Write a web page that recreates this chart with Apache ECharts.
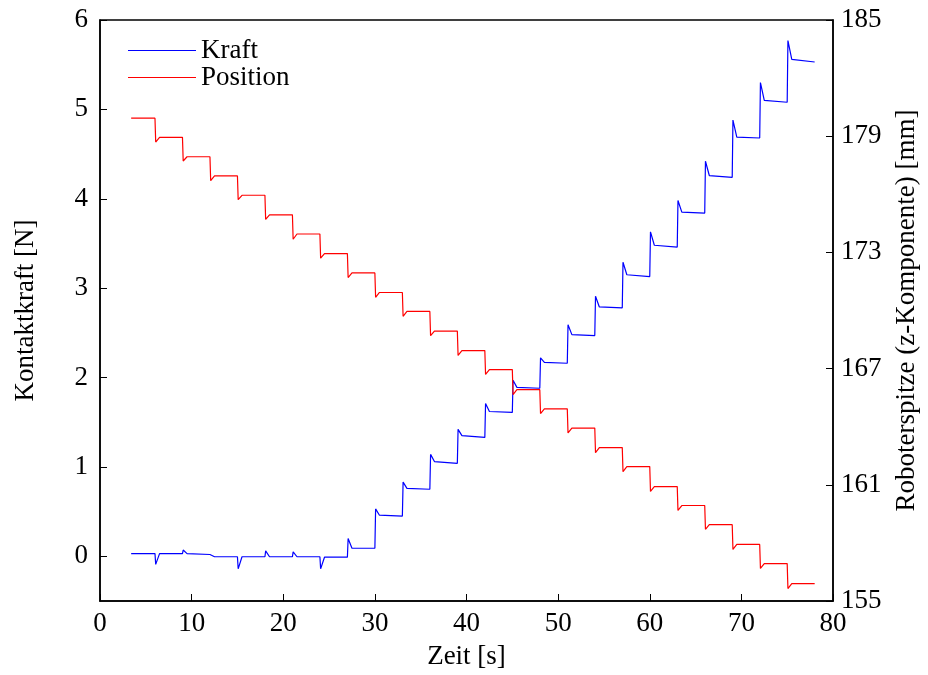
<!DOCTYPE html>
<html>
<head>
<meta charset="utf-8">
<script src="https://cdn.jsdelivr.net/npm/echarts@6/dist/echarts.min.js"></script>
<style>
  html, body { margin: 0; padding: 0; background: #fff; }
  #chart { width: 928px; height: 675px; }
</style>
</head>
<body>
<div id="chart"></div>
<script>
// time range of the recording [s]
var timeRange = [3.4, 78]
// times where the robot moves one step [s]
var stepTimes = [6, 9, 12, 15, 18, 21, 24, 27, 30, 33, 36, 39, 42, 45, 48, 51, 54, 57, 60, 63, 66, 69, 72, 75]

// Kraft [N]: settled level and end level of each segment, peak at each step
var kraftSettle = [0.03, 0.03, 0.03, -0.005, -0.005, -0.005, -0.005, -0.01, 0.09, 0.46, 0.76, 1.06, 1.35, 1.62, 1.89, 2.17, 2.48, 2.79, 3.15, 3.48, 3.85, 4.26, 4.69, 5.10, 5.56]
var kraftEnd = [0.03, 0.03, 0.02, -0.005, -0.005, -0.005, -0.005, -0.01, 0.09, 0.45, 0.75, 1.04, 1.33, 1.61, 1.88, 2.16, 2.47, 2.78, 3.13, 3.46, 3.84, 4.24, 4.68, 5.08, 5.53]
var kraftPeak = [-0.09, 0.07, 0.0, -0.14, 0.06, 0.05, -0.14, 0.20, 0.53, 0.83, 1.14, 1.42, 1.71, 1.97, 2.22, 2.59, 2.91, 3.29, 3.63, 3.98, 4.42, 4.88, 5.30, 5.77]

// Position [mm]: level of each segment, undershoot at each step
var positionLevel = [179.93, 178.94, 177.94, 176.95, 175.95, 174.94, 173.95, 172.94, 171.94, 170.93, 169.95, 168.94, 167.93, 166.95, 165.91, 164.92, 163.93, 162.92, 161.94, 160.91, 159.93, 158.94, 157.92, 156.93, 155.90]
var positionDip = [178.70, 177.72, 176.70, 175.72, 174.70, 173.68, 172.70, 171.70, 170.68, 169.70, 168.70, 167.68, 166.70, 165.66, 164.68, 163.68, 162.66, 161.68, 160.66, 159.68, 158.70, 157.66, 156.68, 155.64]

var leftTicks = [0, 1, 2, 3, 4, 5, 6]

function buildKraft() {
  var pts = [[timeRange[0], kraftSettle[0]]]
  for (var i = 0; i < stepTimes.length; i++) {
    var t = stepTimes[i]
    pts.push([t, kraftEnd[i]])
    pts.push([t + 0.08, kraftPeak[i]])
    pts.push([t + 0.5, kraftSettle[i + 1]])
  }
  pts.push([timeRange[1], kraftEnd[kraftEnd.length - 1]])
  return pts
}

function buildPosition() {
  var pts = [[timeRange[0], positionLevel[0]]]
  for (var i = 0; i < stepTimes.length; i++) {
    var t = stepTimes[i]
    pts.push([t, positionLevel[i]])
    pts.push([t + 0.08, positionDip[i]])
    pts.push([t + 0.5, positionLevel[i + 1]])
  }
  pts.push([timeRange[1], positionLevel[positionLevel.length - 1]])
  return pts
}

var font = '"Liberation Serif", "DejaVu Serif", serif'
var fs = 27
var chart = echarts.init(document.getElementById('chart'))
chart.setOption({
  animation: false,
  textStyle: { fontFamily: font, color: '#000' },
  grid: {
    left: 100, right: 88, top: 20, bottom: 74,
    show: true, borderColor: '#000', borderWidth: 1.5, backgroundColor: 'transparent'
  },
  legend: {
    left: 123, top: 32, orient: 'vertical', itemGap: 0,
    itemWidth: 68, itemHeight: 12, icon: 'path://M0,5 L68,5 L68,6.2 L0,6.2 Z',
    textStyle: { fontFamily: font, fontSize: fs, color: '#000', padding: [0, 0, 0, 0] },
    data: [
      { name: 'Kraft', itemStyle: { color: '#0000ff' } },
      { name: 'Position', itemStyle: { color: '#ff0000' } }
    ]
  },
  xAxis: {
    type: 'value', min: 0, max: 80, interval: 10,
    name: 'Zeit [s]', nameLocation: 'middle', nameGap: 42,
    nameTextStyle: { fontFamily: font, fontSize: fs, color: '#000' },
    axisLine: { onZero: false, lineStyle: { color: '#000', width: 1.5 } },
    axisTick: { inside: true, length: 7, lineStyle: { color: '#000' } },
    axisLabel: { fontFamily: font, fontSize: fs, color: '#000', margin: 9 },
    splitLine: { show: false }
  },
  yAxis: [{
    type: 'value', min: -0.5, max: 6, position: 'left',
    name: 'Kontaktkraft [N]', nameLocation: 'middle', nameGap: 61,
    nameTextStyle: { fontFamily: font, fontSize: fs, color: '#000' },
    axisLine: { show: true, onZero: false, lineStyle: { color: '#000', width: 1.5 } },
    axisTick: { show: true, inside: true, length: 7, customValues: leftTicks, lineStyle: { color: '#000' } },
    axisLabel: { fontFamily: font, fontSize: fs, color: '#000', margin: 12, customValues: leftTicks },
    splitLine: { show: false }
  }, {
    type: 'value', min: 155, max: 185, interval: 6, position: 'right',
    name: 'Roboterspitze (z-Komponente) [mm]', nameLocation: 'middle', nameGap: 60,
    nameRotate: 90,
    nameTextStyle: { fontFamily: font, fontSize: fs, color: '#000' },
    axisLine: { show: true, onZero: false, lineStyle: { color: '#000', width: 1.5 } },
    axisTick: { show: true, inside: true, length: 7, lineStyle: { color: '#000' } },
    axisLabel: { fontFamily: font, fontSize: fs, color: '#000', margin: 8 },
    splitLine: { show: false }
  }],
  series: [{
    name: 'Kraft', type: 'line', yAxisIndex: 0, symbol: 'none',
    lineStyle: { color: '#0000ff', width: 1.2 }, itemStyle: { color: '#0000ff' },
    data: buildKraft()
  }, {
    name: 'Position', type: 'line', yAxisIndex: 1, symbol: 'none',
    lineStyle: { color: '#ff0000', width: 1.2 }, itemStyle: { color: '#ff0000' },
    data: buildPosition()
  }]
})
</script>
</body>
</html>
